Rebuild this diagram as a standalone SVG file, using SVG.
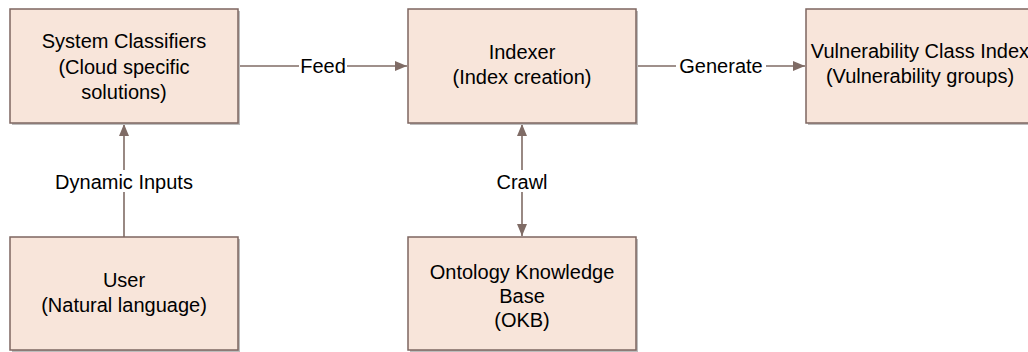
<svg xmlns="http://www.w3.org/2000/svg" width="1028" height="352" viewBox="0 0 1028 352">
  <style>
    .box { fill: #F8E5DA; stroke: #7D6660; stroke-width: 1.5; }
    .shadow { fill: #BDBDBD; }
    .lbl { font-family: "Liberation Sans", Arial, sans-serif; font-size: 20px; fill: #000; text-anchor: middle; }
    .edge { stroke: #7F6B65; stroke-width: 1.6; fill: none; }
    .tag { fill: #FFFFFF; }
  </style>
  <defs>
    <marker id="arrow" viewBox="0 0 12 10" refX="12" refY="5" markerWidth="12" markerHeight="10" markerUnits="userSpaceOnUse" orient="auto-start-reverse">
      <path d="M0,0 L12,5 L0,10 Z" fill="#7F6B65"/>
    </marker>
  </defs>
  <rect width="1028" height="352" fill="#FFFFFF"/>

  <!-- connectors -->
  <g id="connectors">
    <line class="edge" x1="238" y1="66" x2="407" y2="66" marker-end="url(#arrow)"/>
    <rect class="tag" x="299" y="56" width="48" height="20"/>
    <text class="lbl" x="323" y="73">Feed</text>

    <line class="edge" x1="636" y1="66" x2="805" y2="66" marker-end="url(#arrow)"/>
    <rect class="tag" x="676" y="56" width="90" height="20"/>
    <text class="lbl" x="721" y="73">Generate</text>

    <line class="edge" x1="124" y1="237" x2="124" y2="124" marker-end="url(#arrow)"/>
    <rect class="tag" x="48" y="170" width="152" height="22"/>
    <text class="lbl" x="124" y="189">Dynamic Inputs</text>

    <line class="edge" x1="522" y1="124" x2="522" y2="236" marker-start="url(#arrow)" marker-end="url(#arrow)"/>
    <rect class="tag" x="494" y="170" width="56" height="22"/>
    <text class="lbl" x="522" y="189">Crawl</text>
  </g>

  <g id="system-classifiers">
    <rect class="shadow" x="12" y="11" width="228" height="114"/>
    <rect class="box" x="10" y="9" width="228" height="114"/>
    <text class="lbl" x="124" y="48">System Classifiers</text>
    <text class="lbl" x="124" y="74">(Cloud specific</text>
    <text class="lbl" x="124" y="99">solutions)</text>
  </g>

  <g id="indexer">
    <rect class="shadow" x="410" y="11" width="228" height="114"/>
    <rect class="box" x="408" y="9" width="228" height="114"/>
    <text class="lbl" x="522" y="59">Indexer</text>
    <text class="lbl" x="522" y="84">(Index creation)</text>
  </g>

  <g id="vulnerability-class-index">
    <rect class="shadow" x="808" y="11" width="228" height="114"/>
    <rect class="box" x="806" y="9" width="228" height="114"/>
    <text class="lbl" x="920" y="58">Vulnerability Class Index</text>
    <text class="lbl" x="920" y="83">(Vulnerability groups)</text>
  </g>

  <g id="user">
    <rect class="shadow" x="12" y="239" width="228" height="113"/>
    <rect class="box" x="10" y="237" width="228" height="113"/>
    <text class="lbl" x="124" y="287">User</text>
    <text class="lbl" x="124" y="312">(Natural language)</text>
  </g>

  <g id="ontology-knowledge-base">
    <rect class="shadow" x="410" y="239" width="228" height="113"/>
    <rect class="box" x="408" y="237" width="228" height="113"/>
    <text class="lbl" x="522" y="279">Ontology Knowledge</text>
    <text class="lbl" x="522" y="303">Base</text>
    <text class="lbl" x="522" y="327">(OKB)</text>
  </g>
</svg>
